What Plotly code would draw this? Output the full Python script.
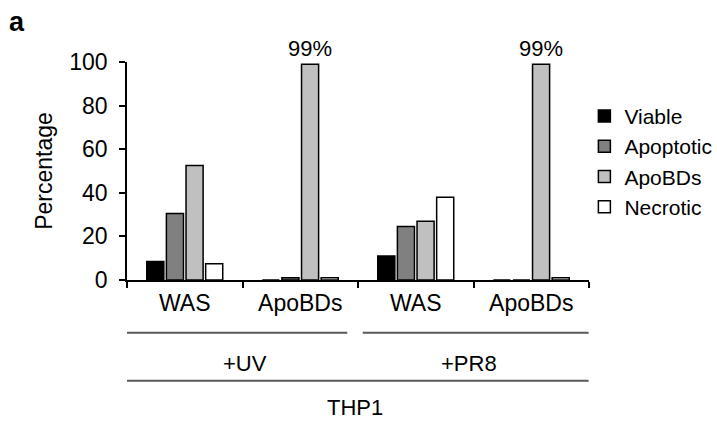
import plotly.graph_objects as go

categories = ["WAS|UV", "ApoBDs|UV", "WAS|PR8", "ApoBDs|PR8"]
tick_labels = ["WAS", "ApoBDs", "WAS", "ApoBDs"]
series_names = ["Viable", "Apoptotic", "ApoBDs", "Necrotic"]
viable = [8.5, 0, 11, 0]
apoptotic = [30.5, 1, 24.5, 0]
apobds = [52.5, 99, 27, 99]
necrotic = [7.5, 1, 38, 1]
apobds_labels = ["", "99%", "", "99%"]
group_labels = ["+UV", "+PR8"]
cell_label = "THP1"

colors = ["#000000", "#808080", "#c0c0c0", "#ffffff"]
FONT = "Arial, Liberation Sans, sans-serif"

fig = go.Figure()
for name, vals, col in zip(series_names, [viable, apoptotic, apobds, necrotic], colors):
    kw = {}
    if name == "ApoBDs":
        kw = dict(text=apobds_labels, textposition="outside", cliponaxis=False,
                  constraintext="none",
                  textfont=dict(size=22, color="#000000", family=FONT))
    fig.add_trace(go.Bar(x=categories, y=vals, name=name,
                         marker=dict(color=col, line=dict(color="#000000", width=1.5)),
                         **kw))

fig.update_layout(
    width=717, height=426,
    margin=dict(l=127, r=128, t=62, b=146, autoexpand=False),
    plot_bgcolor="white", paper_bgcolor="white",
    barmode="group", bargap=0.32, bargroupgap=0.13,
    font=dict(family=FONT, size=23, color="#000000"),
    showlegend=True,
    legend=dict(x=0.99, xanchor="left", y=0.845, yanchor="top",
                font=dict(size=21, family=FONT), bgcolor="rgba(0,0,0,0)",
                traceorder="normal"),
    xaxis=dict(type="category", categoryorder="array", categoryarray=categories,
               range=[-0.5, 3.5], autorange=False,
               tickmode="array", tickvals=categories, ticktext=tick_labels,
               tickson="boundaries", ticks="outside", ticklen=6, tickwidth=1.5,
               tickcolor="#000000", showline=True, linecolor="#000000", linewidth=1.5,
               showgrid=False, zeroline=False, tickfont=dict(size=23), automargin=False,
               ticklabelstandoff=2),
    yaxis=dict(range=[0, 100], tickvals=[0, 20, 40, 60, 80, 100],
               ticks="outside", ticklen=6, tickwidth=1.5, tickcolor="#000000",
               showline=True, linecolor="#000000", linewidth=1.5,
               showgrid=False, zeroline=False, tickfont=dict(size=23), automargin=False,
               ticklabelstandoff=7,
               title=dict(text="Percentage", font=dict(size=23), standoff=10)),
)

line_col = "#595959"
fig.add_shape(type="line", xref="x", yref="paper", x0=-0.546, x1=1.407, y0=-0.242, y1=-0.242,
              line=dict(color=line_col, width=2))
fig.add_shape(type="line", xref="x", yref="paper", x0=1.541, x1=3.497, y0=-0.242, y1=-0.242,
              line=dict(color=line_col, width=2))
fig.add_shape(type="line", xref="x", yref="paper", x0=-0.546, x1=3.497, y0=-0.462, y1=-0.462,
              line=dict(color=line_col, width=2))

fig.add_annotation(x=0.52, y=-0.384, xref="x", yref="paper", text=group_labels[0],
                   showarrow=False, font=dict(size=22), yanchor="middle")
fig.add_annotation(x=2.46, y=-0.384, xref="x", yref="paper", text=group_labels[1],
                   showarrow=False, font=dict(size=22), yanchor="middle")
fig.add_annotation(x=1.47, y=-0.586, xref="x", yref="paper", text=cell_label,
                   showarrow=False, font=dict(size=22), yanchor="middle")
fig.add_annotation(x=-0.26, y=1.183, xref="paper", yref="paper", text="<b>a</b>",
                   showarrow=False, font=dict(size=27), yanchor="middle")

fig.write_html("out.html", config={"displayModeBar": False},
               post_script="document.body.style.margin='0';")
